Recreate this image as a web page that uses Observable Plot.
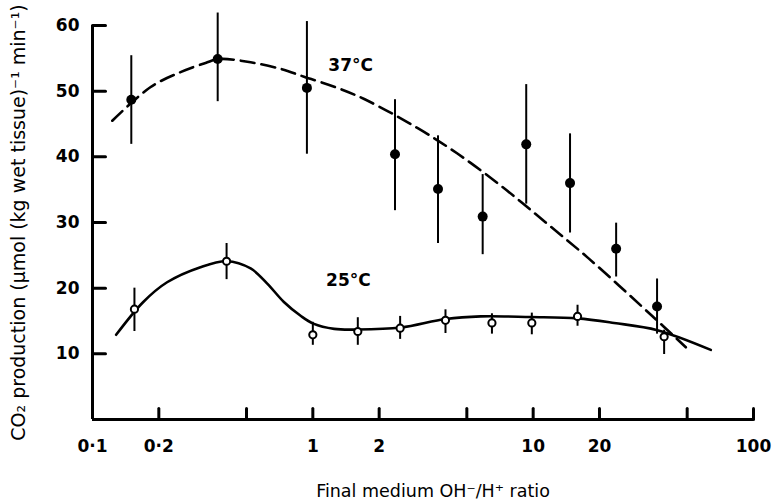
<!DOCTYPE html>
<html>
<head>
<meta charset="utf-8">
<script src="https://cdn.jsdelivr.net/npm/d3@7"></script>
<script src="https://cdn.jsdelivr.net/npm/@observablehq/plot@0.6"></script>
<style>
  html, body { margin: 0; padding: 0; background: #fff; }
  #chart { width: 772px; height: 502px; }
</style>
</head>
<body>
<div id="chart"></div>
<script>
// 37 °C (filled circles): ratio, mean, error bar low/high
const ratio37 = [0.15, 0.37, 0.94, 2.36, 3.7, 5.9, 9.3, 14.7, 23.8, 36.5];
const co2_37  = [48.7, 54.9, 50.5, 40.4, 35.1, 30.9, 41.9, 36.0, 26.0, 17.2];
const lo37    = [41.9, 48.4, 40.4, 31.8, 26.8, 25.1, 32.8, 28.4, 21.7, 13.0];
const hi37    = [55.4, 61.9, 60.6, 48.7, 43.2, 37.3, 51.0, 43.5, 29.9, 21.4];

// 25 °C (open circles)
const ratio25 = [0.155, 0.406, 1.0, 1.6, 2.49, 4.0, 6.5, 9.86, 15.9, 39.3];
const co2_25  = [16.8, 24.1, 12.9, 13.4, 13.9, 15.1, 14.7, 14.7, 15.7, 12.6];
const lo25    = [13.4, 21.3, 11.3, 11.3, 12.2, 13.1, 13.0, 12.9, 14.2, 9.9];
const hi25    = [20.0, 26.8, 14.8, 15.5, 15.7, 16.7, 16.1, 16.2, 17.4, 13.6];

// fitted curves
const fit37X = [0.123, 0.183, 0.251, 0.326, 0.375, 0.522, 0.714, 0.912, 1.27, 1.71, 2.98, 4.53, 7.26, 11.4, 17.9, 34.6, 49.3];
const fit37Y = [45.5, 50.6, 52.9, 54.3, 54.9, 54.4, 53.4, 52.2, 50.6, 48.8, 44.4, 40.5, 35.4, 30.0, 24.5, 15.8, 11.0];
const fit25X = [0.128, 0.170, 0.218, 0.309, 0.406, 0.522, 0.621, 0.739, 0.880, 1.005, 1.25, 1.60, 2.51, 4.01, 5.78, 9.75, 15.9, 23.3, 36.6, 64.0];
const fit25Y = [12.9, 17.9, 20.9, 23.2, 24.1, 23.0, 20.7, 17.9, 15.8, 14.6, 13.8, 13.7, 14.0, 15.3, 15.7, 15.6, 15.4, 14.7, 13.6, 10.6];

// axes
const xTicks = [0.1, 0.2, 0.5, 1, 2, 5, 10, 20, 50, 100];
const xTickLabels = ["0·1", "0·2", "0·5", "1", "2", "5", "10", "20", "50", "100"];
const yTicks = [10, 20, 30, 40, 50, 60];
const yDomain = [0, 60];
const xDomain = [0.1, 100];

// series labels
const seriesLabels = [
  {x: 1.485, y: 53.9, text: "37°C"},
  {x: 1.45, y: 21.2, text: "25°C"}
];
const xTitle = "Final medium OH⁻/H⁺ ratio";
const yTitle = "CO₂ production (μmol (kg wet tissue)⁻¹ min⁻¹)";

const pts37 = ratio37.map((r, i) => ({x: r, y: co2_37[i], lo: lo37[i], hi: hi37[i]}));
const pts25 = ratio25.map((r, i) => ({x: r, y: co2_25[i], lo: lo25[i], hi: hi25[i]}));
const fit37 = fit37X.map((r, i) => ({x: r, y: fit37Y[i]}));
const fit25 = fit25X.map((r, i) => ({x: r, y: fit25Y[i]}));

// straight tick shape for Plot.vector (points "up" before rotation)
const tickShape = {draw(context, l) { context.moveTo(0, 0); context.lineTo(0, -l); }};

const chart = Plot.plot({
  width: 772,
  height: 502,
  marginLeft: 92,
  marginRight: 19,
  marginTop: 25,
  marginBottom: 83,
  x: {type: "log", domain: xDomain},
  y: {domain: yDomain},
  style: {fontFamily: "DejaVu Sans", fontSize: "17px", color: "black", background: "white", overflow: "visible"},
  marks: [
    // axis lines
    Plot.ruleX([xDomain[0]], {y1: yDomain[0], y2: yDomain[1], strokeWidth: 3}),
    Plot.ruleY([yDomain[0]], {x1: xDomain[0], x2: xDomain[1], strokeWidth: 3}),
    // inward ticks
    Plot.vector(yTicks, {x: () => xDomain[0], y: d => d, length: 13, rotate: 90, anchor: "start", shape: tickShape, strokeWidth: 3, stroke: "black"}),
    Plot.vector(xTicks.slice(1), {x: d => d, y: () => yDomain[0], length: 11, rotate: 0, anchor: "start", shape: tickShape, strokeWidth: 3, stroke: "black"}),
    // tick labels
    Plot.axisY({ticks: yTicks, tickSize: 0, tickPadding: 13, tickFormat: d => String(d), fontWeight: "bold", fontSize: 17, label: null}),
    Plot.axisX({ticks: xTicks, tickSize: 0, tickPadding: 20, tickFormat: d => xTickLabels[xTicks.indexOf(d)], fontWeight: "bold", fontSize: 17, label: null}),
    // fitted curves
    Plot.line(fit37, {x: "x", y: "y", curve: "catmull-rom", stroke: "black", strokeWidth: 2.6, strokeDasharray: "14,7"}),
    Plot.line(fit25, {x: "x", y: "y", curve: "catmull-rom", stroke: "black", strokeWidth: 2.6}),
    // error bars
    Plot.ruleX(pts37, {x: "x", y1: "lo", y2: "hi", stroke: "black", strokeWidth: 2}),
    Plot.ruleX(pts25, {x: "x", y1: "lo", y2: "hi", stroke: "black", strokeWidth: 2}),
    // points
    Plot.dot(pts37, {x: "x", y: "y", r: 5, fill: "black", stroke: "none"}),
    Plot.dot(pts25, {x: "x", y: "y", r: 3.6, fill: "white", stroke: "black", strokeWidth: 2}),
    // labels
    Plot.text(seriesLabels, {x: "x", y: "y", text: "text", fontSize: 17, fontWeight: "bold"}),
    Plot.text([xTitle], {frameAnchor: "bottom", dy: 77, dx: 10, fontSize: 17.5}),
    Plot.text([yTitle], {frameAnchor: "left", dx: -74, rotate: -90, textAnchor: "middle", fontSize: 19})
  ]
});
document.getElementById("chart").appendChild(chart);
</script>
</body>
</html>
